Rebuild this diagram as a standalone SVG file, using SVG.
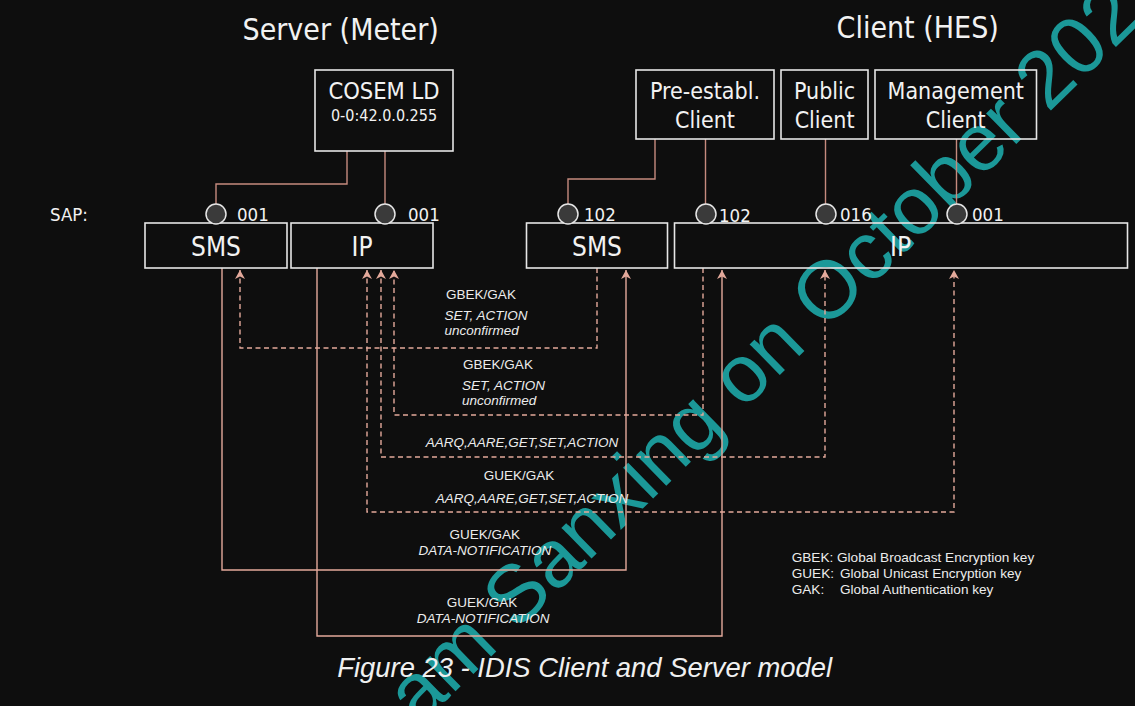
<svg xmlns="http://www.w3.org/2000/svg" width="1135" height="706" viewBox="0 0 1135 706">
<defs>
<style>
.bg{fill:#0e0e0e}
.box{fill:none;stroke:#e6e6e6;stroke-width:1.6}
.t{font-family:"DejaVu Sans Condensed","DejaVu Sans",sans-serif;fill:#f2f2f2}
.title{font-size:30px;text-anchor:middle}
.big{font-size:26px;text-anchor:middle}
.mid{font-size:23px;text-anchor:middle}
.sap{font-size:18.5px}
.lbl{font-family:"Liberation Sans",Arial,sans-serif;font-size:13.5px;fill:#ececec}
.leg{font-size:13.6px}
.cap{font-size:27.4px;fill:#f0f0f0}
.c{text-anchor:middle}
.i{font-style:italic}
.sapc{fill:#3a3a3a;stroke:#e6e6e6;stroke-width:1.5}
.link{fill:none;stroke:#c58a7e;stroke-width:1.4}
.sol{fill:none;stroke:#e3a99b;stroke-width:1.4}
.dash{fill:none;stroke:#e3a99b;stroke-width:1.4;stroke-dasharray:5 3.5}
.wm{font-family:"Liberation Sans",Arial,sans-serif;font-size:81.5px;fill:#1b9898}
</style>
<marker id="ah" viewBox="-10 -6 12 12" refX="0" refY="0" markerWidth="12" markerHeight="12" markerUnits="userSpaceOnUse" orient="auto-start-reverse">
<path d="M0,0 L-9,-5 L-6.5,0 L-9,5 Z" fill="#e3a99b"/>
</marker>
</defs>
<rect class="bg" x="0" y="0" width="1135" height="706"/>

<text class="wm" transform="translate(419,727) rotate(-44.3)">am Sanxing on October 202</text>

<text class="t title" x="340.7" y="39.5">Server (Meter)</text>
<text class="t title" x="917.7" y="37.5">Client (HES)</text>
<text class="t sap" x="50" y="221">SAP:</text>

<g id="connectors">
<path class="link" d="M347,151 V184 H216 V204"/>
<path class="link" d="M385,151 V204"/>
<path class="link" d="M655,139 V179 H568 V204"/>
<path class="link" d="M705.5,139 V204"/>
<path class="link" d="M825.5,139 V204"/>
<path class="link" d="M956.5,139 V204"/>
<path class="dash" d="M597,268 V348 H240 V270" marker-end="url(#ah)"/>
<path class="dash" d="M703,268 V415 H394 V270" marker-end="url(#ah)"/>
<path class="dash" d="M381,270 V457 H825 V270" marker-start="url(#ah)" marker-end="url(#ah)"/>
<path class="dash" d="M367,270 V512 H954 V270" marker-start="url(#ah)" marker-end="url(#ah)"/>
<path class="sol" d="M222,268 V570 H626 V270" marker-end="url(#ah)"/>
<path class="sol" d="M317,268 V636 H722 V270" marker-end="url(#ah)"/>
</g>

<g id="cosem-ld">
<rect class="box" x="315" y="70" width="138" height="81"/>
<text class="t c" x="384" y="99" style="font-size:23.5px">COSEM LD</text>
<text class="t c" x="384" y="121" style="font-size:16px">0-0:42.0.0.255</text>
</g>

<g id="server-sms">
<rect class="box" x="145" y="223" width="142" height="45"/>
<text class="t big" x="216" y="255.5">SMS</text>
<circle class="sapc" cx="216" cy="214" r="10"/>
<text class="t sap" x="237" y="221">001</text>
</g>

<g id="server-ip">
<rect class="box" x="291" y="223" width="142" height="45"/>
<text class="t big" x="362" y="255.5">IP</text>
<circle class="sapc" cx="385" cy="214" r="10"/>
<text class="t sap" x="408" y="221">001</text>
</g>

<g id="pre-established-client">
<rect class="box" x="636" y="70" width="138" height="69"/>
<text class="t mid" x="705" y="99">Pre-establ.</text>
<text class="t mid" x="705" y="128">Client</text>
</g>

<g id="public-client">
<rect class="box" x="781" y="70" width="87" height="69"/>
<text class="t mid" x="824.6" y="99">Public</text>
<text class="t mid" x="824.6" y="128">Client</text>
</g>

<g id="management-client">
<rect class="box" x="875" y="70" width="161.5" height="69"/>
<text class="t mid" x="955.7" y="99">Management</text>
<text class="t mid" x="955.7" y="128">Client</text>
</g>

<g id="client-sms">
<rect class="box" x="526.5" y="223" width="141" height="45"/>
<text class="t big" x="597" y="255.5">SMS</text>
<circle class="sapc" cx="568" cy="214" r="10"/>
<text class="t sap" x="584" y="221">102</text>
</g>

<g id="client-ip">
<rect class="box" x="674.5" y="223" width="453" height="45"/>
<text class="t big" x="900.5" y="255.5">IP</text>
<circle class="sapc" cx="706" cy="214" r="10"/>
<text class="t sap" x="719" y="222">102</text>
<circle class="sapc" cx="826" cy="214" r="10"/>
<text class="t sap" x="840" y="221">016</text>
<circle class="sapc" cx="957" cy="214" r="10"/>
<text class="t sap" x="972" y="221">001</text>
</g>

<g id="labels">
<text class="lbl c" x="481" y="299">GBEK/GAK</text>
<text class="lbl i" x="444.5" y="319.5">SET, ACTION</text>
<text class="lbl i" x="444.5" y="334.5">unconfirmed</text>
<text class="lbl c" x="498" y="368.5">GBEK/GAK</text>
<text class="lbl i" x="462" y="389.5">SET, ACTION</text>
<text class="lbl i" x="462" y="405">unconfirmed</text>
<text class="lbl i" x="425.7" y="447">AARQ,AARE,GET,SET,ACTION</text>
<text class="lbl c" x="519" y="479.5">GUEK/GAK</text>
<text class="lbl i" x="435.7" y="503">AARQ,AARE,GET,SET,ACTION</text>
<text class="lbl c" x="484.7" y="539">GUEK/GAK</text>
<text class="lbl i" x="418.6" y="554.5">DATA-NOTIFICATION</text>
<text class="lbl c" x="482" y="607">GUEK/GAK</text>
<text class="lbl i" x="416.8" y="622.5">DATA-NOTIFICATION</text>
</g>

<g id="legend">
<text class="lbl leg" x="791.7" y="562">GBEK: Global Broadcast Encryption key</text>
<text class="lbl leg" x="791.7" y="577.5">GUEK:<tspan x="840">Global Unicast Encryption key</tspan></text>
<text class="lbl leg" x="791.7" y="593.5">GAK:<tspan x="840">Global Authentication key</tspan></text>
</g>

<text class="lbl i cap" x="337.3" y="677.3">Figure 23 - IDIS Client and Server model</text>
</svg>
